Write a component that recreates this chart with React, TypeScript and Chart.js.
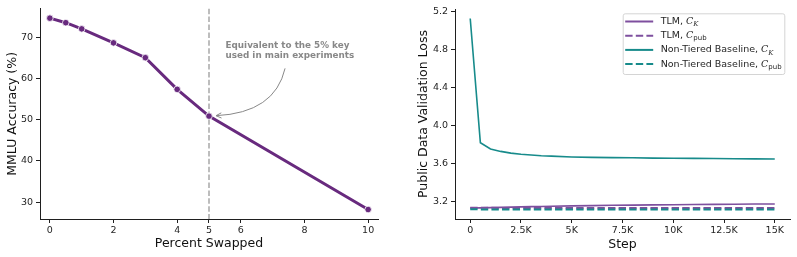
import React, { useEffect, useRef } from 'react';
import { Chart, registerables } from 'chart.js';

Chart.register(...registerables);

const FONT = '"DejaVu Sans", sans-serif';
const INK = '#1f1f1f';

// Left panel: MMLU accuracy as more of the key is swapped
const swapPct = [0, 0.5, 1, 2, 3, 4, 5, 10];
const mmluAcc = [74.7, 73.6, 72.1, 68.7, 65.1, 57.4, 50.9, 28.2];
const swapTicks = [0, 2, 4, 5, 6, 8, 10];
const accTicks = [30, 40, 50, 60, 70];
const noteLines = ['Equivalent to the 5% key', 'used in main experiments'];
const mainKeySwap = 5;

// Right panel: public-data validation loss over training steps
const steps = [0, 500, 1000, 1500, 2000, 2500, 3000, 3500, 4000, 5000, 6000, 7000, 8000, 9000, 10000, 11000, 12000, 13000, 14000, 15000];
const tlmK = [3.132, 3.134, 3.137, 3.139, 3.142, 3.144, 3.147, 3.149, 3.151, 3.155, 3.158, 3.161, 3.163, 3.165, 3.167, 3.169, 3.171, 3.172, 3.174, 3.175];
const tlmPub = [3.135, 3.134, 3.134, 3.133, 3.133, 3.133, 3.133, 3.133, 3.133, 3.133, 3.133, 3.133, 3.133, 3.133, 3.133, 3.133, 3.133, 3.133, 3.133, 3.133];
const baseK = [5.123, 3.818, 3.752, 3.727, 3.709, 3.697, 3.689, 3.682, 3.678, 3.669, 3.664, 3.662, 3.66, 3.657, 3.655, 3.654, 3.652, 3.65, 3.649, 3.648];
const basePub = [3.119, 3.118, 3.118, 3.118, 3.118, 3.118, 3.117, 3.117, 3.117, 3.117, 3.117, 3.117, 3.117, 3.117, 3.117, 3.117, 3.117, 3.117, 3.117, 3.117];
const stepTicks = [0, 2500, 5000, 7500, 10000, 12500, 15000];
const lossTicks = [3.2, 3.6, 4.0, 4.4, 4.8, 5.2];

const PURPLE_DARK = '#682a7e';
const PURPLE = '#7e4f9e';
const TEAL = '#178b8b';

type Entry = { name: string; sub: string; color: string; dash: number[] };
const legendEntries: Entry[] = [
  { name: 'TLM', sub: 'K', color: PURPLE, dash: [] },
  { name: 'TLM', sub: 'pub', color: PURPLE, dash: [7.4, 3.2] },
  { name: 'Non-Tiered Baseline', sub: 'K', color: TEAL, dash: [] },
  { name: 'Non-Tiered Baseline', sub: 'pub', color: TEAL, dash: [7.4, 3.2] },
];

const pts = (xs: number[], ys: number[]) => xs.map((x, i) => ({ x, y: ys[i] }));

function axis(opts: any) {
  const { min, max, ticks, size, side, title, titlePad, fmt } = opts;
  return {
    type: 'linear',
    min,
    max,
    afterBuildTicks: (s: any) => {
      s.ticks = ticks.map((v: number) => ({ value: v }));
    },
    afterFit: (s: any) => {
      if (side === 'x') s.height = size;
      else s.width = size;
    },
    grid: {
      display: true,
      drawOnChartArea: false,
      drawTicks: true,
      tickLength: 4,
      tickWidth: 1,
      tickColor: INK,
    },
    border: { display: true, color: INK, width: 1 },
    ticks: {
      font: { family: FONT, size: 9.5 },
      color: INK,
      padding: side === 'x' ? 2 : 3,
      maxRotation: 0,
      autoSkip: false,
      callback: fmt,
    },
    title: {
      display: true,
      text: title,
      color: '#111',
      font: { family: FONT, size: 12.5 },
      padding: titlePad,
    },
  };
}

// Dashed reference line, note text and curved arrow on the accuracy panel
const notePlugin = {
  id: 'keyNote',
  beforeDatasetsDraw(chart: any) {
    const { ctx, chartArea, scales } = chart;
    const px = scales.x.getPixelForValue(mainKeySwap);
    ctx.save();
    ctx.strokeStyle = '#9a9a9a';
    ctx.lineWidth = 1.3;
    ctx.setLineDash([5.5, 2.4]);
    ctx.beginPath();
    ctx.moveTo(px, chartArea.top);
    ctx.lineTo(px, chartArea.bottom);
    ctx.stroke();
    ctx.restore();
  },
  afterDatasetsDraw(chart: any) {
    const { ctx, scales } = chart;
    const X = (v: number) => scales.x.getPixelForValue(v);
    const Y = (v: number) => scales.y.getPixelForValue(v);
    ctx.save();
    ctx.fillStyle = '#888';
    ctx.font = `bold 8.8px ${FONT}`;
    ctx.textAlign = 'left';
    ctx.textBaseline = 'middle';
    const tx = X(5.52);
    const ty = Y(68.1);
    noteLines.forEach((l, i) => ctx.fillText(l, tx, ty + i * 10));

    const sx = X(7.39), sy = Y(62.5);
    const cx = X(7.07), cy = Y(51.7);
    const ex = X(5.22), ey = Y(51.0);
    ctx.strokeStyle = '#888';
    ctx.lineWidth = 1;
    ctx.beginPath();
    ctx.moveTo(sx, sy);
    ctx.quadraticCurveTo(cx, cy, ex, ey);
    ctx.stroke();
    const ang = Math.atan2(ey - cy, ex - cx);
    const hl = 6;
    ctx.beginPath();
    ctx.moveTo(ex - hl * Math.cos(ang - 0.45), ey - hl * Math.sin(ang - 0.45));
    ctx.lineTo(ex, ey);
    ctx.lineTo(ex - hl * Math.cos(ang + 0.45), ey - hl * Math.sin(ang + 0.45));
    ctx.stroke();
    ctx.restore();
  },
};

// Legend with math-style C_K / C_pub labels
const legendPlugin = {
  id: 'mathLegend',
  afterDraw(chart: any) {
    const { ctx, chartArea } = chart;
    const right = chartArea.right - 5.7;
    const left = right - 161.6;
    const top = chartArea.top + 4.3;
    const h = 60.7;
    ctx.save();
    ctx.fillStyle = 'rgba(255,255,255,0.85)';
    ctx.strokeStyle = '#d4d4d4';
    ctx.lineWidth = 1;
    ctx.beginPath();
    ctx.roundRect(left + 0.5, top + 0.5, right - left, h, 2);
    ctx.fill();
    ctx.stroke();
    legendEntries.forEach((e, i) => {
      const y = top + 8.2 + i * 14.2;
      ctx.strokeStyle = e.color;
      ctx.lineWidth = 2;
      ctx.setLineDash(e.dash);
      ctx.beginPath();
      ctx.moveTo(left + 2.5, y);
      ctx.lineTo(left + 30.5, y);
      ctx.stroke();
      ctx.setLineDash([]);
      let x = left + 38;
      ctx.fillStyle = INK;
      ctx.textAlign = 'left';
      ctx.textBaseline = 'middle';
      ctx.font = `9.5px ${FONT}`;
      const head = `${e.name}, `;
      ctx.fillText(head, x, y);
      x += ctx.measureText(head).width;
      ctx.font = 'italic 9.5px "DejaVu Serif", serif';
      ctx.fillText('C', x, y);
      x += ctx.measureText('C').width;
      ctx.font = e.sub === 'K' ? 'italic 7px "DejaVu Serif", serif' : `7px ${FONT}`;
      ctx.fillText(e.sub, x, y + 2.8);
    });
    ctx.restore();
  },
};

function AccuracyPanel() {
  const ref = useRef<HTMLCanvasElement>(null);
  useEffect(() => {
    const chart = new Chart(ref.current as HTMLCanvasElement, {
      type: 'scatter',
      data: {
        datasets: [
          {
            data: pts(swapPct, mmluAcc),
            showLine: true,
            borderColor: PURPLE_DARK,
            borderWidth: 3,
            pointRadius: 3.3,
            pointBackgroundColor: PURPLE_DARK,
            pointBorderColor: '#ffffff',
            pointBorderWidth: 0.8,
            tension: 0,
          },
        ],
      },
      options: {
        animation: false,
        responsive: false,
        devicePixelRatio: 1,
        layout: { padding: { top: 7, right: 22, left: 0, bottom: 0 } },
        plugins: { legend: { display: false }, tooltip: { enabled: false } },
        scales: {
          x: axis({ min: -0.31, max: 10.31, ticks: swapTicks, size: 38, side: 'x', title: 'Percent Swapped', titlePad: { top: 0, bottom: 5.5 } }),
          y: axis({ min: 25.9, max: 77.0, ticks: accTicks, size: 40, side: 'y', title: 'MMLU Accuracy (%)', titlePad: { top: 5, bottom: 0 } }),
        },
      } as any,
      plugins: [notePlugin],
    });
    return () => chart.destroy();
  }, []);
  return <canvas ref={ref} width={400} height={257} style={{ position: 'absolute', left: 0, top: 0 }} />;
}

function LossPanel() {
  const ref = useRef<HTMLCanvasElement>(null);
  useEffect(() => {
    const line = (ys: number[], color: string, dash: number[], width: number, order: number) => ({
      data: pts(steps, ys),
      showLine: true,
      borderColor: color,
      borderWidth: width,
      borderDash: dash,
      pointRadius: 0,
      tension: 0,
      order,
    });
    const chart = new Chart(ref.current as HTMLCanvasElement, {
      type: 'scatter',
      data: {
        datasets: [
          line(tlmK, PURPLE, [], 1.6, 4),
          line(tlmPub, PURPLE, [7.4, 3.2], 2, 3),
          line(baseK, TEAL, [], 1.6, 2),
          line(basePub, TEAL, [7.4, 3.2], 2, 1),
        ],
      },
      options: {
        animation: false,
        responsive: false,
        devicePixelRatio: 1,
        layout: { padding: { top: 9, right: 7, left: 0, bottom: 0 } },
        plugins: { legend: { display: false }, tooltip: { enabled: false } },
        scales: {
          x: axis({
            min: -750, max: 15750, ticks: stepTicks, size: 38, side: 'x', title: 'Step',
            titlePad: { top: 0, bottom: 4.5 },
            fmt: (v: number) => (v === 0 ? '0' : `${v / 1000}K`),
          }),
          y: axis({
            min: 3.017, max: 5.223, ticks: lossTicks, size: 55, side: 'y', title: 'Public Data Validation Loss',
            titlePad: { top: 16.5, bottom: 0 },
            fmt: (v: number) => v.toFixed(1),
          }),
        },
      } as any,
      plugins: [legendPlugin],
    });
    return () => chart.destroy();
  }, []);
  return <canvas ref={ref} width={397} height={257} style={{ position: 'absolute', left: 400, top: 0 }} />;
}

export default function App() {
  return (
    <div style={{ position: 'fixed', left: 0, top: 0, width: 797, height: 257, background: '#ffffff', overflow: 'hidden' }}>
      <AccuracyPanel />
      <LossPanel />
    </div>
  );
}
